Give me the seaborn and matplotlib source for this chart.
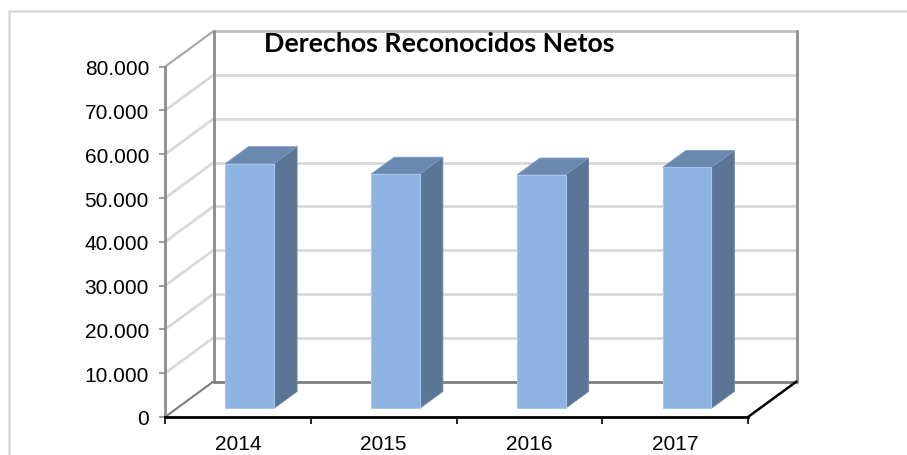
import numpy as np
import pandas as pd
import matplotlib
matplotlib.use("Agg")
import matplotlib.pyplot as plt
from matplotlib.patches import Polygon
from matplotlib.lines import Line2D
import seaborn as sns

# ---- data ----
years = ["2014", "2015", "2016", "2017"]
values = [55900, 53500, 53300, 55000]
y_ticks = [0, 10000, 20000, 30000, 40000, 50000, 60000, 70000, 80000]
y_labels = ["0", "10.000", "20.000", "30.000", "40.000", "50.000", "60.000", "70.000", "80.000"]
title = "Derechos Reconocidos Netos"

# ---- style ----
FRONT = "#8DB3E2"
SIDE = "#5A7595"
TOP = "#6B89B0"
GRID = "#D9D9D9"
WALL = "#8C8C8C"

sns.set_theme(style="white")
plt.rcParams["font.family"] = ["Liberation Sans", "DejaVu Sans"]

DPI = 100
W, H = 907, 456
fig = plt.figure(figsize=(W / DPI, H / DPI), dpi=DPI)

# axes = front plane of the 3D box (pixels)
L, R, B, T = 165, 748, 38, 388.3
ax = fig.add_axes([L / W, B / H, (R - L) / W, (T - B) / H])
ymax = y_ticks[-1]
ax.set_xlim(-0.5, len(years) - 0.5)
ax.set_ylim(0, ymax)

# depth offset (pixels) -> data units
px_x = (R - L) / len(years)
px_y = (T - B) / ymax
DXp, DYp = 48.5, 35.5
DX, DY = DXp / px_x, DYp * (1 / px_y)
f0, f1 = 0.245, 0.72  # bar depth span (fraction of full depth)

x0, x1 = -0.5, len(years) - 0.5
kw = dict(clip_on=False)

# back wall gridlines and left side-wall diagonals
for v in y_ticks[1:-1]:
    ax.add_line(Line2D([x0 + DX, x1 + DX], [v + DY, v + DY], color=GRID, lw=2, zorder=0.5, **kw))
    ax.add_line(Line2D([x0, x0 + DX], [v, v + DY], color=GRID, lw=2, zorder=0.5, **kw))
# top of walls
ax.add_line(Line2D([x0 + DX, x1 + DX], [ymax + DY, ymax + DY], color="#BFBFBF", lw=2, zorder=0.6, **kw))
ax.add_line(Line2D([x0, x0 + DX], [ymax, ymax + DY], color="#A6A6A6", lw=1.5, zorder=0.6, **kw))
# wall verticals
ax.add_line(Line2D([x0 + DX, x0 + DX], [DY, ymax + DY], color=WALL, lw=2, zorder=0.7, **kw))
ax.add_line(Line2D([x1 + DX, x1 + DX], [DY, ymax + DY], color=WALL, lw=2, zorder=0.7, **kw))
# floor
ax.add_line(Line2D([x0 + DX, x1 + DX], [DY, DY], color="#7F7F7F", lw=2, zorder=0.7, **kw))
ax.add_line(Line2D([x0, x0 + DX], [0, DY], color="#7F7F7F", lw=1.5, zorder=0.7, **kw))
ax.add_line(Line2D([x1, x1 + DX], [0, DY], color="black", lw=1.8, zorder=0.7, **kw))

# bars
df = pd.DataFrame({"year": years, "value": values})
sns.barplot(data=df, x="year", y="value", color=FRONT, width=1 / 3, saturation=1,
            edgecolor="#A9C6EA", linewidth=0.8, ax=ax, zorder=3)
bx, by = (f1 - f0) * DX, (f1 - f0) * DY
for p in ax.patches:
    p.set_x(p.get_x() + f0 * DX)
    p.set_y(f0 * DY)
    p.set_clip_on(False)
    xl, xr = p.get_x(), p.get_x() + p.get_width()
    yb, yt = p.get_y(), p.get_y() + p.get_height()
    ax.add_patch(Polygon([(xr, yb), (xr, yt), (xr + bx, yt + by), (xr + bx, yb + by)],
                         closed=True, facecolor=SIDE, edgecolor="#6C86A6", lw=0.6, zorder=2.5, clip_on=False))
    ax.add_patch(Polygon([(xl, yt), (xr, yt), (xr + bx, yt + by), (xl + bx, yt + by)],
                         closed=True, facecolor=TOP, edgecolor="#7D98BC", lw=0.6, zorder=2.6, clip_on=False))

# axes styling
for s in ["top", "right"]:
    ax.spines[s].set_visible(False)
ax.spines["left"].set_color(WALL)
ax.spines["left"].set_linewidth(2)
ax.spines["bottom"].set_color("black")
ax.spines["bottom"].set_linewidth(2)
ax.spines["left"].set_zorder(0.8)
ax.spines["bottom"].set_zorder(4)

ax.set_yticks(y_ticks)
ax.set_yticklabels(y_labels, fontsize=15, color="black")
ax.tick_params(axis="y", which="major", length=4, width=1.2, color=WALL, pad=7.5, left=True)
ax.set_xticks(range(len(years)))
ax.set_xticklabels(years, fontsize=15, color="black")
ax.set_xticks(np.arange(-0.5, len(years), 1.0), minor=True)
ax.tick_params(axis="x", which="major", length=0, pad=12)
ax.tick_params(axis="x", which="minor", length=5, width=1.2, color="black", bottom=True)
ax.set_xlabel("")
ax.set_ylabel("")
ax.grid(False)
ax.set_facecolor("none")

# outer chart frame (top and left edges)
fig.add_artist(Line2D([8.5 / W, 1], [1 - 11.7 / H, 1 - 11.7 / H], color="#D9D9D9", lw=1.8, transform=fig.transFigure))
fig.add_artist(Line2D([8.5 / W, 8.5 / W], [0, 1 - 11.7 / H], color="#D9D9D9", lw=1.8, transform=fig.transFigure))

fig.text(439 / W, 1 - 44 / H, title, ha="center", va="center", fontsize=19.3,
         fontweight="bold", family=["Lato", "DejaVu Sans"], color="black")

fig.savefig("out.png", dpi=DPI, facecolor="white")
